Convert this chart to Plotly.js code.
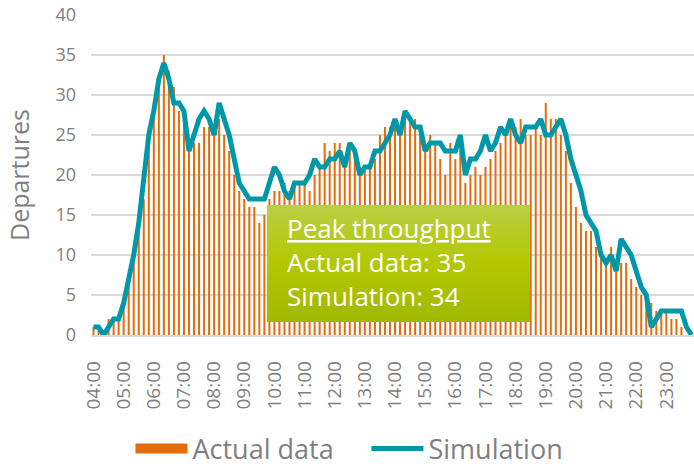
<!DOCTYPE html>
<html>
<head>
<meta charset="utf-8">
<script src="https://cdn.plot.ly/plotly-3.0.1.min.js"></script>
<style>html,body{margin:0;padding:0;background:#fff;}</style>
</head>
<body>
<div id="chart" style="width:694px;height:469px;"></div>
<script>
// Time slots: every 10 minutes from 04:00 to 23:50
const hours = ["04","05","06","07","08","09","10","11","12","13","14","15","16","17","18","19","20","21","22","23"];
const minutes = ["00","10","20","30","40","50"];
const timeSlots = [];
hours.forEach(h => minutes.forEach(m => timeSlots.push(h + ":" + m)));
const hourTicks = hours.map(h => h + ":00");

// Departures per 10-minute slot
const actualData = [
  1,1,0,2,2,2,
  4,6,9,13,17,25,
  27,31,35,33,31,28,
  27,23,24,24,26,26,
  25,27,25,23,20,18,
  17,16,16,14,15,17,
  18,18,19,18,19,19,
  19,18,20,21,24,23,
  24,24,22,24,23,20,
  21,21,22,25,26,26,
  26,25,27,27,27,26,
  23,25,24,22,20,24,
  22,24,19,20,21,20,
  21,22,23,24,25,26,
  26,27,25,25,26,25,
  29,27,27,25,23,19,
  16,14,13,13,11,10,
  9,11,9,9,9,7,
  6,5,5,4,3,3,
  3,2,2,1,0,0
];
const simulation = [
  1,1,0,1,2,2,
  4,7,10,14,19,25,
  28,32,34,32,29,29,
  28,23,25,27,28,27,
  25,29,27,25,22,19,
  18,17,17,17,17,19,
  21,20,18,17,19,19,
  19,20,22,21,21,22,
  22,23,21,24,23,20,
  21,21,23,23,24,25,
  27,25,28,27,26,26,
  23,24,24,24,23,23,
  23,25,20,22,22,23,
  25,23,24,26,25,27,
  25,24,26,26,26,27,
  25,25,26,27,25,22,
  20,18,15,14,13,10,
  9,10,8,12,11,10,
  8,6,5,1,2,3,
  3,3,3,3,1,0
];
const peakActual = 35;
const peakSimulation = 34;

const ORANGE = '#E46C0A';
const TEAL = '#0097A9';
const GRAY = '#7F7F7F';

const traces = [
  {
    type: 'bar', name: 'Actual data', x: timeSlots, y: actualData,
    marker: {color: ORANGE}, hoverinfo: 'x+y',
    legendgroup: 'actual', showlegend: false
  },
  {
    // legend entry for the bars, drawn as a wide swatch
    type: 'scatter', mode: 'lines', name: 'Actual data', x: [null], y: [null],
    line: {color: ORANGE, width: 17}, legendgroup: 'actual', showlegend: true, hoverinfo: 'skip'
  },
  {
    type: 'scatter', mode: 'lines', name: 'Simulation', x: timeSlots, y: simulation,
    line: {color: TEAL, width: 5, shape: 'linear'}, hoverinfo: 'x+y'
  }
];

const gradSvg = '<svg xmlns="http://www.w3.org/2000/svg" width="100" height="100" preserveAspectRatio="none" viewBox="0 0 100 100">' +
  '<defs><linearGradient id="g" x1="0" y1="0" x2="0" y2="1">' +
  '<stop offset="0" stop-color="#B9CF45"/><stop offset="0.5" stop-color="#B3C800"/><stop offset="1" stop-color="#A0B800"/>' +
  '</linearGradient></defs><rect width="100" height="100" fill="url(#g)"/></svg>';
const gradUri = 'data:image/svg+xml;charset=utf-8,' + encodeURIComponent(gradSvg);

const layout = {
  width: 694, height: 469,
  margin: {l: 91, r: 0, t: 15, b: 134},
  paper_bgcolor: '#ffffff', plot_bgcolor: '#ffffff',
  bargap: 0.6,
  font: {family: '"Open Sans", sans-serif', color: GRAY},
  showlegend: true,
  legend: {
    orientation: 'h', xref: 'container', yref: 'container',
    x: 0.188, xanchor: 'left', y: 0.043, yanchor: 'middle',
    font: {size: 27, color: GRAY}, itemwidth: 52, traceorder: 'normal',
    entrywidthmode: 'pixels', entrywidth: 169
  },
  xaxis: {
    type: 'category', categoryorder: 'array', categoryarray: timeSlots,
    range: [-0.5, timeSlots.length - 0.5],
    tickmode: 'array', tickvals: hourTicks, ticktext: hourTicks,
    tickangle: -90, tickfont: {size: 19, color: GRAY},
    showgrid: false, zeroline: false, showline: true, linecolor: '#D9D9D9', linewidth: 1.5,
    ticks: '', ticklabelstandoff: 17
  },
  yaxis: {
    range: [0, 40], tick0: 0, dtick: 5,
    gridcolor: '#D9D9D9', gridwidth: 1.5, zeroline: false, showline: false,
    ticks: '', tickfont: {size: 18, color: GRAY}, ticklabelstandoff: 14,
    title: {text: 'Departures', font: {size: 25, color: GRAY}, standoff: 18}
  },
  images: [{
    source: gradUri, xref: 'paper', yref: 'paper',
    x: (267 - 91) / 603, y: (335 - 205) / 320,
    sizex: (530 - 267) / 603, sizey: (322 - 205) / 320,
    xanchor: 'left', yanchor: 'top', sizing: 'stretch', layer: 'above'
  }],
  annotations: [{
    xref: 'paper', yref: 'paper', x: (285 - 91) / 603, y: (335 - 262) / 320,
    xanchor: 'left', yanchor: 'middle', align: 'left', showarrow: false,
    text: '<u>Peak throughput</u><br>Actual data: ' + peakActual + '<br>Simulation: ' + peakSimulation,
    font: {size: 26, color: '#ffffff'}
  }]
};

Plotly.newPlot('chart', traces, layout, {staticPlot: true, displayModeBar: false});
</script>
</body>
</html>
